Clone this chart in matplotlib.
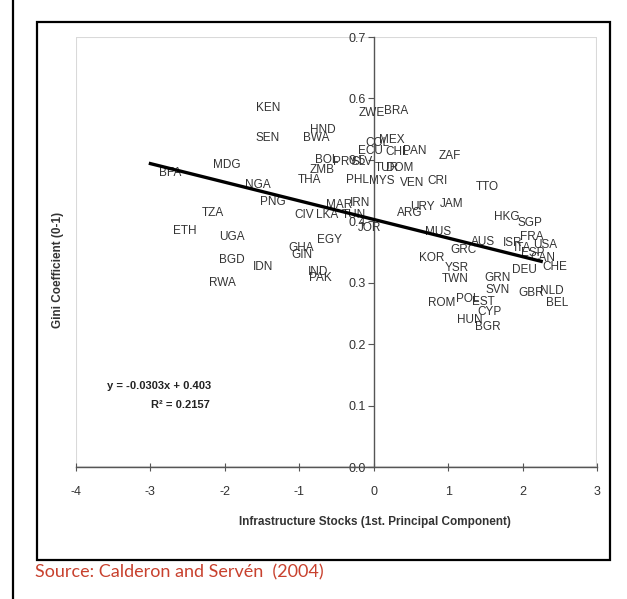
import matplotlib
matplotlib.use("Agg")
import matplotlib.pyplot as plt
from matplotlib.patches import Rectangle
from matplotlib.lines import Line2D
from matplotlib import font_manager

# ---------------- data ----------------
countries = ["KEN", "SEN", "HND", "BWA", "ZWE", "BRA", "ECU", "COL", "MEX", "CHL",
             "PAN", "ZAF", "BOL", "PRY", "SLV", "ZMB", "THA", "PHL", "MYS", "TUR",
             "DOM", "VEN", "CRI", "TTO", "BFA", "MDG", "NGA", "PNG", "TZA", "ETH",
             "UGA", "BGD", "IDN", "RWA", "CIV", "LKA", "MAR", "IRN", "TUN", "JOR",
             "ARG", "URY", "JAM", "MUS", "EGY", "GHA", "GIN", "IND", "PAK", "KOR",
             "YSR", "TWN", "ROM", "POL", "EST", "CYP", "HUN", "BGR", "GRN", "SVN",
             "DEU", "CHE", "GBR", "NLD", "BEL", "HKG", "SGP", "AUS", "GRC", "ISR",
             "ITA", "FRA", "USA", "ESP", "CAN"]
infra = [-1.42, -1.42, -0.69, -0.77, -0.03, 0.30, -0.05, 0.05, 0.24, 0.31,
         0.55, 1.02, -0.63, -0.39, -0.16, -0.69, -0.86, -0.22, 0.11, 0.17,
         0.35, 0.52, 0.86, 1.52, -2.74, -1.98, -1.56, -1.36, -2.16, -2.54,
         -1.90, -1.91, -1.49, -2.03, -0.93, -0.62, -0.46, -0.19, -0.26, -0.05,
         0.48, 0.65, 1.05, 0.86, -0.59, -0.97, -0.97, -0.75, -0.71, 0.78,
         1.12, 1.09, 0.91, 1.26, 1.48, 1.56, 1.29, 1.53, 1.67, 1.67,
         2.03, 2.43, 2.12, 2.39, 2.47, 1.79, 2.10, 1.47, 1.20, 1.87,
         2.00, 2.12, 2.30, 2.14, 2.27]
gini = [0.584, 0.535, 0.548, 0.535, 0.576, 0.580, 0.515, 0.527, 0.532, 0.512,
        0.515, 0.507, 0.499, 0.496, 0.496, 0.483, 0.467, 0.467, 0.465, 0.486,
        0.486, 0.463, 0.465, 0.455, 0.478, 0.491, 0.459, 0.431, 0.413, 0.385,
        0.374, 0.337, 0.325, 0.299, 0.410, 0.410, 0.426, 0.429, 0.411, 0.389,
        0.413, 0.424, 0.428, 0.382, 0.369, 0.356, 0.345, 0.317, 0.307, 0.341,
        0.324, 0.306, 0.267, 0.273, 0.268, 0.252, 0.239, 0.228, 0.307, 0.288,
        0.320, 0.325, 0.283, 0.286, 0.267, 0.407, 0.398, 0.366, 0.353, 0.364,
        0.356, 0.374, 0.361, 0.348, 0.340]

slope = -0.0303
intercept = 0.403
fit_range = [-3.0, 2.25]

x_ticks = [-4, -3, -2, -1, 0, 1, 2, 3]
y_ticks = [0.0, 0.1, 0.2, 0.3, 0.4, 0.5, 0.6, 0.7]
y_ticklabels = ["0.0", "0.1", "0.2", "0.3", "0.4", "0.5", "0.6", "0.7"]

# ---------------- fonts ----------------
avail = {f.name for f in font_manager.fontManager.ttflist}
narrow = "DejaVu Sans"
for cand in ["Liberation Sans Narrow", "DejaVu Sans Condensed", "Liberation Sans"]:
    if cand in avail:
        narrow = cand
        break
src_font = "Lato" if "Lato" in avail else "DejaVu Sans"

# ---------------- figure ----------------
fig = plt.figure(figsize=(6.27, 5.99), dpi=100)
W, H = 627, 599

# outer frame
fig.add_artist(Rectangle((37 / W, 1 - 560 / H), (610 - 37) / W, (560 - 22) / H,
                         transform=fig.transFigure, fill=False, edgecolor="black",
                         linewidth=1.6))
fig.add_artist(Line2D([13 / W, 13 / W], [0, 1], transform=fig.transFigure,
                      color="black", linewidth=1.6))

ax = fig.add_axes([76 / W, 1 - 467 / H, (597 - 76) / W, (467 - 37) / H])
ax.set_xlim(-4, 3)
ax.set_ylim(0, 0.7)

# plot area border (light grey)
ax.add_patch(Rectangle((0, 0), 1, 1, transform=ax.transAxes, fill=False,
                       edgecolor="#d9d9d9", linewidth=1.5, zorder=0))

for s in ["top", "right"]:
    ax.spines[s].set_visible(False)
ax.spines["left"].set_position(("data", 0))
ax.spines["bottom"].set_position(("data", 0))
for s in ["left", "bottom"]:
    ax.spines[s].set_color("#555555")
    ax.spines[s].set_linewidth(1.0)

ax.set_xticks(x_ticks)
ax.set_xticklabels([str(v) for v in x_ticks])
ax.set_yticks(y_ticks)
ax.set_yticklabels(y_ticklabels)
ax.tick_params(axis="x", direction="inout", length=6, width=0.8, colors="#555555",
               labelcolor="#333333", labelsize=9, pad=11)
ax.tick_params(axis="y", direction="out", length=4, width=0.8, colors="#555555",
               labelcolor="#333333", labelsize=9, pad=2)
for lab in ax.get_xticklabels() + ax.get_yticklabels():
    lab.set_family(narrow)

# country labels
for name, xv, yv in zip(countries, infra, gini):
    ax.text(xv, yv, name, ha="center", va="center", fontsize=8.5,
            family=narrow, color="#333333", zorder=3)

# regression line
xs = fit_range
ys = [slope * v + intercept for v in xs]
ax.plot(xs, ys, color="black", linewidth=2.4, zorder=4)

ax.text(-2.88, 0.132, "y = -0.0303x + 0.403", ha="center", va="center",
        fontsize=8, fontweight="bold", family=narrow, color="#222222")
ax.text(-2.6, 0.101, "R² = 0.2157", ha="center", va="center",
        fontsize=8, fontweight="bold", family=narrow, color="#222222")

fig.text(375 / W, 1 - 522 / H, "Infrastructure Stocks (1st. Principal Component)",
         ha="center", va="center", fontsize=8.5, fontweight="bold",
         family=narrow, color="#333333")
fig.text(58 / W, 1 - 270 / H, "Gini Coefficient (0-1)", ha="center", va="center",
         rotation=90, fontsize=8.5, fontweight="bold", family=narrow, color="#333333")

fig.text(35 / W, 1 - 572 / H, "Source: Calderon and Servén  (2004)", ha="left",
         va="center", fontsize=13, family=src_font, color="#c8412e")

fig.savefig("out.png", dpi=100)
